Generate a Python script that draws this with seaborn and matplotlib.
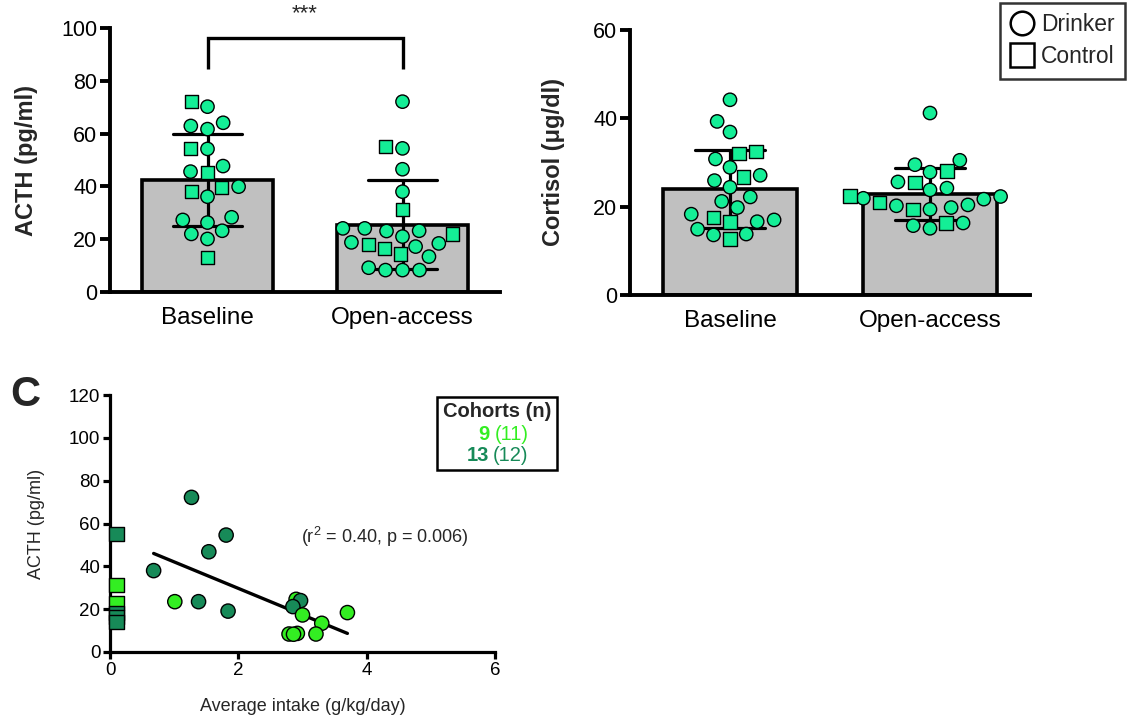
import numpy as np
import pandas as pd
import matplotlib
matplotlib.use("Agg")
import matplotlib.pyplot as plt
from matplotlib.markers import MarkerStyle
from matplotlib.lines import Line2D
from matplotlib.patches import Rectangle
import seaborn as sns
from seaborn import categorical as sns_cat

# ---------------- data ----------------
groups = ["Baseline", "Open-access"]

# Panel A: ACTH (pg/ml)
acth_base_drinker = [70.2, 62.9, 61.7, 64.1, 54.2, 45.6, 47.7, 39.9, 36.1, 27.3, 23.2, 22.0, 20.1, 26.3, 28.3]
acth_base_control = [72.1, 54.4, 45.2, 39.5, 38.0, 13.0]
acth_open_drinker = [72.1, 54.4, 46.5, 38.0, 24.1, 23.1, 21.0, 17.2, 18.4, 18.8, 23.2, 24.1, 13.4, 8.3, 8.3, 8.3, 9.2]
acth_open_control = [55.0, 31.3, 18.1, 16.5, 22.0, 14.4]

# Panel B: Cortisol (ug/dl)
cort_base_drinker = [44.2, 39.3, 36.9, 30.8, 28.9, 27.1, 25.9, 24.4, 22.2, 21.2, 18.3, 19.8, 17.0, 16.6, 13.6, 13.8, 14.9]
cort_base_control = [32.0, 32.5, 26.7, 16.5, 17.5, 12.7]
cort_open_drinker = [41.2, 29.5, 27.8, 30.5, 25.6, 23.8, 22.3, 21.7, 20.4, 20.2, 21.9, 24.2, 19.8, 19.4, 15.1, 15.7, 16.3]
cort_open_control = [28.1, 25.5, 20.9, 22.4, 19.4, 16.3]

# Panel C: ACTH vs average intake
c_intake = [1.27, 1.81, 1.54, 0.68, 1.01, 1.38, 1.84, 2.90, 2.97, 2.85, 3.00, 3.70, 3.30, 2.79, 2.92, 3.21, 2.86,
            0.1, 0.1, 0.1, 0.1, 0.1, 0.1]
c_acth = [72.2, 54.6, 46.8, 38.0, 23.5, 23.5, 19.1, 24.6, 24.0, 21.2, 17.3, 18.4, 13.4, 8.4, 8.7, 8.4, 8.3,
          55.1, 31.3, 22.9, 18.2, 16.5, 14.0]
c_cohort = ["13", "13", "13", "13", "9", "13", "13", "9", "13", "13", "9", "9", "9", "9", "9", "9", "9",
            "13", "9", "9", "13", "13", "13"]
c_type = ["Drinker"] * 17 + ["Control"] * 6

r2_text = "(r$^2$ = 0.40, p = 0.006)"
cohort_n = {"9": 11, "13": 12}

# ---------------- style ----------------
sns.set_theme(style="ticks")
plt.rcParams["font.family"] = ["Liberation Sans", "DejaVu Sans"]
plt.rcParams["mathtext.fontset"] = "custom"
plt.rcParams["mathtext.rm"] = "Liberation Sans"

MINT = "#14EE96"
LIGHT = "#33EE22"
DARK = "#178A58"
BARGRAY = "#C0C0C0"

# slightly looser swarm spacing (GraphPad-like scatter)
_orig_beeswarm = sns_cat.Beeswarm.beeswarm


def _loose_beeswarm(self, orig_xyr):
    xyr = np.array(orig_xyr, dtype=float).copy()
    xyr[:, 2] *= 1.1
    return _orig_beeswarm(self, xyr)


sns_cat.Beeswarm.beeswarm = _loose_beeswarm

fig = plt.figure(figsize=(11.3, 7.19), dpi=100)
W, H = 1130, 719


def add_axes_px(x0, y_top, x1, y_bottom):
    return fig.add_axes([x0 / W, 1 - y_bottom / H, (x1 - x0) / W, (y_bottom - y_top) / H])


axA = add_axes_px(110, 28, 500, 292)
axB = add_axes_px(630, 30, 1030, 295)
axC = add_axes_px(110, 395, 495, 652)


def make_df(bd, bc, od, oc):
    rows = []
    for g, d, c in [(groups[0], bd, bc), (groups[1], od, oc)]:
        for v in d:
            rows.append((g, v, "Drinker"))
        for v in c:
            rows.append((g, v, "Control"))
    return pd.DataFrame(rows, columns=["group", "value", "type"])


circle = MarkerStyle("o")
square = MarkerStyle("s")
circ_path = circle.get_path().transformed(circle.get_transform())
sq_path = square.get_path().transformed(square.get_transform())


def bar_swarm(ax, df, ymax, yticks, ylabel, label_x):
    sns.barplot(data=df, x="group", y="value", order=groups, estimator="mean", errorbar="sd",
                color=BARGRAY, saturation=1, width=0.67, capsize=0.35,
                err_kws={"color": "black", "linewidth": 2.3},
                edgecolor="black", linewidth=2.6, ax=ax)
    n_before = len(ax.collections)
    sns.swarmplot(data=df, x="group", y="value", order=groups, color=MINT, size=9.6,
                  edgecolor="black", linewidth=1, ax=ax)
    for coll in ax.collections[n_before:]:
        offs = coll.get_offsets()
        if len(offs) == 0:
            continue
        idx = int(round(offs[0][0]))
        types = df[df["group"] == groups[idx]]["type"].tolist()
        coll.set_paths([circ_path if t == "Drinker" else sq_path for t in types])
    ax.set_xlim(-0.5, 1.5)
    ax.set_ylim(0, ymax)
    ax.set_yticks(yticks)
    ax.set_xlabel("")
    ax.set_ylabel(ylabel, fontsize=17, fontweight="bold")
    ax.yaxis.set_label_coords(label_x, 0.5)
    for s in ["left", "bottom"]:
        ax.spines[s].set_linewidth(2.8)
        ax.spines[s].set_color("black")
    sns.despine(ax=ax)
    ax.tick_params(axis="x", length=0, pad=11, labelsize=17.5, colors="black")
    ax.tick_params(axis="y", length=7, width=2.8, pad=2, labelsize=15.5, colors="black", direction="out")


dfA = make_df(acth_base_drinker, acth_base_control, acth_open_drinker, acth_open_control)
dfB = make_df(cort_base_drinker, cort_base_control, cort_open_drinker, cort_open_control)
bar_swarm(axA, dfA, 100, [0, 20, 40, 60, 80, 100], "ACTH (pg/ml)", -0.185)
bar_swarm(axB, dfB, 60, [0, 20, 40, 60], "Cortisol (\u03bcg/dl)", -0.163)

# significance bracket in panel A
axA.plot([0, 0, 1, 1], [84.5, 96.2, 96.2, 84.5], color="black", lw=2.4, clip_on=False,
         solid_joinstyle="miter", solid_capstyle="butt")
axA.text(0.5, 101.5, "***", ha="center", va="bottom", fontsize=16)

# legend top right
handles = [Line2D([], [], marker="o", linestyle="none", markersize=17, markerfacecolor="white",
                  markeredgecolor="black", markeredgewidth=1.8, label="Drinker"),
           Line2D([], [], marker="s", linestyle="none", markersize=17, markerfacecolor="white",
                  markeredgecolor="black", markeredgewidth=1.8, label="Control")]
leg = fig.legend(handles=handles, loc="upper right", bbox_to_anchor=(1125 / W, 1 - 3 / H),
                 fontsize=16.5, frameon=True, fancybox=False, borderpad=0.45, labelspacing=0.4,
                 handlelength=1.0, handletextpad=0.35, borderaxespad=0)
leg.get_frame().set_edgecolor("black")
leg.get_frame().set_linewidth(1.8)

# ---------------- panel C ----------------
dfC = pd.DataFrame({"intake": c_intake, "acth": c_acth, "cohort": c_cohort, "type": c_type})
sns.regplot(data=dfC[dfC["type"] == "Drinker"], x="intake", y="acth", scatter=False, ci=None,
            truncate=True, color="black", line_kws={"linewidth": 2.4}, ax=axC)
sns.scatterplot(data=dfC, x="intake", y="acth", hue="cohort", style="type",
                palette={"9": LIGHT, "13": DARK}, markers={"Drinker": "o", "Control": "s"},
                s=105, edgecolor="black", linewidth=1, legend=False, ax=axC, zorder=3, clip_on=False)
axC.set_xlim(0, 6)
axC.set_ylim(0, 120)
axC.set_xticks([0, 2, 4, 6])
axC.set_yticks([0, 20, 40, 60, 80, 100, 120])
axC.set_xlabel("Average intake (g/kg/day)", fontsize=13)
axC.set_ylabel("ACTH (pg/ml)", fontsize=13)
axC.yaxis.set_label_coords(-0.17, 0.5)
axC.xaxis.labelpad = 14
for s in ["left", "bottom"]:
    axC.spines[s].set_linewidth(2.3)
    axC.spines[s].set_color("black")
sns.despine(ax=axC)
axC.tick_params(axis="both", length=5, width=2.3, pad=2, labelsize=13.5, colors="black", direction="out")
axC.text(2.97, 53.7, r2_text, ha="left", va="center", fontsize=13)

# cohorts box
axC.add_patch(Rectangle((0.849, 0.71), 0.312, 0.282, transform=axC.transAxes, fill=False,
                        edgecolor="black", linewidth=1.8, clip_on=False))
axC.text(1.005, 0.935, "Cohorts (n)", transform=axC.transAxes, ha="center", va="center",
         fontsize=14.5, fontweight="bold")
axC.text(0.985, 0.848, "9", transform=axC.transAxes, ha="right", va="center",
         fontsize=14.5, fontweight="bold", color=LIGHT)
axC.text(1.0, 0.848, f"({cohort_n['9']})", transform=axC.transAxes, ha="left", va="center",
         fontsize=14.5, color=LIGHT)
axC.text(0.985, 0.763, "13", transform=axC.transAxes, ha="right", va="center",
         fontsize=14.5, fontweight="bold", color=DARK)
axC.text(0.994, 0.763, f"({cohort_n['13']})", transform=axC.transAxes, ha="left", va="center",
         fontsize=14.5, color=DARK)

fig.text(10 / W, 1 - 395 / H, "C", fontsize=30, fontweight="bold", ha="left", va="center")

fig.savefig("out.png", dpi=100)
